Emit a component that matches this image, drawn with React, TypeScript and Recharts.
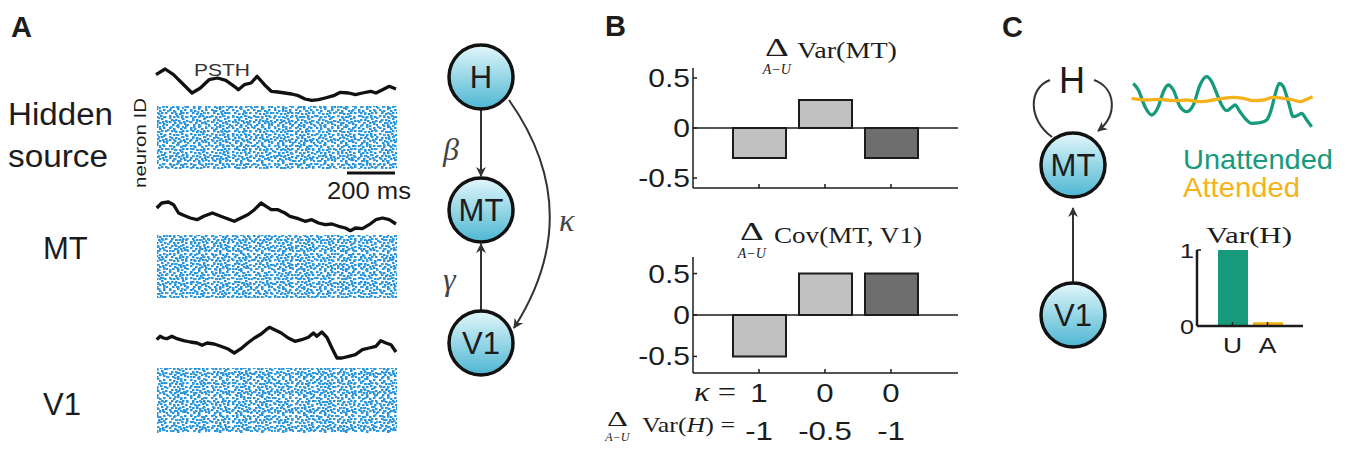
import React from "react";
import { LineChart, Line, XAxis, YAxis, BarChart, Bar, Cell, ReferenceLine } from "recharts";

// --- Panel A: PSTH traces (time in ms, rate in a.u.)
const hiddenT = [0, 38, 73, 108, 150, 185, 221, 256, 291, 326, 343, 368, 396, 421, 452, 480, 508, 537, 565, 593, 621, 649, 677, 705, 740, 768, 803, 831, 860, 895, 916, 944, 972, 1000];
const hiddenRate = [28.3, 34, 28.3, 20, 10, 15, 23.3, 25, 22.7, 16.7, 13.3, 18.3, 20, 26.7, 18.3, 11.7, 11, 10, 9, 7.3, 4, 2.7, 3.3, 5, 7.3, 10.7, 10, 8.3, 10, 11.7, 10, 13.3, 16.7, 14];

const mtT = [3, 24, 52, 73, 94, 115, 143, 171, 199, 235, 270, 298, 326, 354, 382, 410, 438, 459, 480, 508, 537, 558, 593, 621, 649, 677, 705, 733, 761, 789, 810, 831, 860, 888, 916, 944, 972, 1000];
const mtRate = [30, 35, 36, 33.3, 25, 22.7, 20, 18.3, 21.7, 25, 21.7, 19.3, 16.7, 20, 23.3, 28.3, 35, 31.7, 28.3, 28.3, 25, 21.7, 19.3, 16.7, 18.3, 15, 13.3, 14, 11.7, 10, 7.3, 10, 9.3, 13.3, 18.3, 20, 18.3, 14];

const v1T = [3, 17, 31, 45, 66, 87, 115, 143, 171, 192, 213, 242, 270, 298, 326, 354, 382, 410, 438, 459, 473, 494, 522, 551, 579, 607, 635, 656, 670, 691, 712, 733, 754, 775, 803, 831, 860, 888, 916, 937, 958, 979, 1000];
const v1Rate = [28.3, 31.7, 30, 29.3, 31.7, 29.3, 27.3, 26, 25, 22.7, 25, 24, 21.7, 19.3, 15, 19.3, 25, 30, 34, 38.3, 40.7, 38.3, 35, 30, 26.7, 28.3, 30.7, 35, 31.7, 36, 30.7, 20, 10, 10, 11.7, 13.3, 18.3, 20, 21.7, 27.3, 25, 23.3, 16];

// --- Panel B
const kappaValues = ["1", "0", "0"];
const varHDelta = ["-1", "-0.5", "-1"];
const varMtDelta = [-0.3, 0.28, -0.3];
const covDelta = [-0.5, 0.5, 0.5];
const barShades = ["#c1c1c1", "#c1c1c1", "#6e6e6e"];

// --- Panel C
const uT = [40, 55, 75, 95, 115, 130, 145, 160, 180, 200, 220, 240, 260, 275, 290, 305, 320, 335, 345, 360, 375, 395, 420, 440, 455, 465, 478, 490, 505, 520, 535, 545, 560, 575];
const unattended = [51.7, 45, 28.3, 20, 28.3, 43.3, 50, 45, 28.3, 23.3, 30, 50, 58.3, 53.3, 41.7, 30, 24.3, 27.7, 30, 23.3, 16.7, 11.7, 12.3, 15, 26.7, 40, 51.7, 48.3, 33.3, 18.3, 20, 21.7, 15, 8.3];
const aT = [35, 80, 120, 160, 200, 240, 280, 310, 340, 370, 400, 430, 460, 490, 520, 540, 560, 578];
const attended = [36.7, 35, 35.7, 34.3, 35, 33.3, 35, 36.7, 37.7, 36.7, 34.3, 35, 37.7, 36.7, 35, 33.3, 35.7, 38.3];
const varHCats = ["U", "A"];
const varHValues = [1, 0.05];

const GREEN = "#179a7c";
const ORANGE = "#f4b31a";
const INK = "#1c1c1c";
const SANS = "'Liberation Sans', Arial, sans-serif";
const SERIF = "'Liberation Serif', 'Times New Roman', serif";
const STRETCH = 1.2; // the figure's lettering is a bit wider than the font

function Psth({ left, top, t, v }: { left: number; top: number; t: number[]; v: number[] }) {
  const data = t.map((x, i) => ({ t: x, v: v[i] }));
  return (
    <div style={{ position: "absolute", left: left - 3, top: top - 3 }}>
      <LineChart width={246} height={49} data={data} margin={{ top: 3, right: 3, bottom: 3, left: 3 }}>
        <XAxis dataKey="t" type="number" domain={[0, 1000]} hide />
        <YAxis type="number" domain={[0, 43]} hide />
        <Line dataKey="v" stroke="#111" strokeWidth={3.3} dot={false} isAnimationActive={false} strokeLinejoin="round" />
      </LineChart>
    </div>
  );
}

const YTick = (props: any) => {
  const { x, y, payload, fs = 25 } = props;
  return (
    <g>
      <line x1={x} x2={x + 4} y1={y} y2={y} stroke={INK} strokeWidth={1.5} />
      <text x={0} y={0} transform={`translate(${x - 3},${y + fs * 0.36}) scale(${STRETCH},1)`} textAnchor="end" fontSize={fs} fontFamily={SANS} fill={INK}>
        {payload.value}
      </text>
    </g>
  );
};

const makeXTick = (rows: string[][], fs: number, gaps: number[]) => (props: any) => {
  const { x, y, index } = props;
  return (
    <g>
      <line x1={x} x2={x} y1={y} y2={y - 4} stroke={INK} strokeWidth={1.5} />
      {rows.map((r, k) => (
        <text key={k} x={0} y={0} transform={`translate(${x},${y + gaps[k]}) scale(${STRETCH},1)`} textAnchor="middle" fontSize={fs} fontFamily={SANS} fill={INK}>
          {r[index]}
        </text>
      ))}
    </g>
  );
};

function DeltaChart({ top, plotH, values, domain, withLabels }: { top: number; plotH: number; values: number[]; domain: number[]; withLabels: boolean }) {
  const data = values.map((v, i) => ({ name: "c" + i, v }));
  const xh = withLabels ? 74 : 4;
  const tick = withLabels ? makeXTick([kappaValues, varHDelta], 26, [29, 67]) : makeXTick([], 26, []);
  return (
    <div style={{ position: "absolute", left: 633, top: top - 12 }}>
      <BarChart width={335} height={12 + plotH + xh} data={data} margin={{ top: 12, right: 10, bottom: 0, left: 0 }} barSize={53}>
        <XAxis dataKey="name" padding={{ left: 33, right: 34 }} height={xh} tickSize={0} tickMargin={0} tick={tick} axisLine={{ stroke: INK, strokeWidth: 1.5 }} tickLine={false} interval={0} />
        <YAxis type="number" domain={domain} ticks={[-0.5, 0, 0.5]} width={60} tickSize={0} tickMargin={0} tick={<YTick fs={25} />} axisLine={{ stroke: INK, strokeWidth: 1.5 }} tickLine={false} />
        <ReferenceLine y={0} stroke={INK} strokeWidth={1.5} />
        <Bar dataKey="v" stroke={INK} strokeWidth={2} isAnimationActive={false}>
          {data.map((d, i) => (
            <Cell key={d.name} fill={barShades[i]} />
          ))}
        </Bar>
      </BarChart>
    </div>
  );
}

function RasterDefs() {
  const dotsA = [
    [1, 1], [5, 2], [9, 0], [12, 2], [16, 1], [3, 4], [7, 5], [11, 5], [14, 4], [18, 4],
    [1, 7], [5, 8], [9, 8], [13, 7], [17, 8], [3, 11], [7, 11], [10, 12], [14, 10], [18, 12],
    [1, 13], [6, 14], [12, 14], [16, 15], [4, 16], [9, 16], [19, 16], [15, 13],
  ];
  const dotsB = [
    [2, 2], [8, 3], [15, 1], [20, 3], [5, 7], [12, 6], [18, 8], [1, 11], [9, 12], [15, 11], [21, 12], [6, 15], [13, 16], [19, 17],
  ];
  return (
    <>
      <pattern id="rasterA" patternUnits="userSpaceOnUse" width={21} height={18}>
        {dotsA.map(([x, y], i) => (
          <rect key={i} x={x} y={y} width={2.5} height={2.1} fill="#2892d8" />
        ))}
      </pattern>
      <pattern id="rasterB" patternUnits="userSpaceOnUse" width={23} height={19}>
        {dotsB.map(([x, y], i) => (
          <rect key={i} x={x} y={y} width={2.5} height={2.1} fill="#3a9fdf" />
        ))}
      </pattern>
    </>
  );
}

function Raster({ x, y, w, h }: { x: number; y: number; w: number; h: number }) {
  return (
    <g>
      <rect x={x} y={y} width={w} height={h} fill="url(#rasterA)" />
      <rect x={x} y={y} width={w} height={h} fill="url(#rasterB)" />
    </g>
  );
}

function Node({ cx, cy, label, r = 32 }: { cx: number; cy: number; label: string; r?: number }) {
  return (
    <g>
      <circle cx={cx} cy={cy} r={r} fill="url(#nodeGrad)" stroke="#111" strokeWidth={3.5} />
      <text x={cx} y={cy + 11} textAnchor="middle" fontSize={31} fontFamily={SANS} fill={INK}>
        {label}
      </text>
    </g>
  );
}

function SubDelta({ x, y, size, sub }: { x: number; y: number; size: number; sub: number }) {
  // Δ with A−U beneath it
  return (
    <g>
      <text x={x} y={y} fontSize={size} fontFamily={SERIF} fill={INK} textLength={size * 0.95} lengthAdjust="spacingAndGlyphs">Δ</text>
      <text x={x + size * 0.47} y={y + sub * 1.25} textAnchor="middle" fontSize={sub} fontStyle="italic" fontFamily={SERIF} fill={INK}>A−U</text>
    </g>
  );
}

function Overlay() {
  return (
    <svg width={1353} height={454} style={{ position: "absolute", left: 0, top: 0, pointerEvents: "none" }}>
      <defs>
        <RasterDefs />
        <linearGradient id="nodeGrad" x1="0" y1="0" x2="0" y2="1">
          <stop offset="0" stopColor="#e2f7fb" />
          <stop offset="1" stopColor="#4db6d2" />
        </linearGradient>
        <marker id="arr" viewBox="0 0 10 10" refX="9" refY="5" markerWidth={5} markerHeight={5} orient="auto">
          <path d="M0,0 L10,5 L0,10 L3,5 z" fill="#333" />
        </marker>
      </defs>

      {/* panel letters */}
      <text x={11} y={37} fontSize={29} fontWeight="bold" fontFamily={SANS} fill={INK}>A</text>
      <text x={605} y={36} fontSize={29} fontWeight="bold" fontFamily={SANS} fill={INK}>B</text>
      <text x={1002} y={37} fontSize={29} fontWeight="bold" fontFamily={SANS} fill={INK}>C</text>

      {/* panel A labels */}
      <text x={8} y={125} fontSize={31} fontFamily={SANS} fill={INK} textLength={105} lengthAdjust="spacingAndGlyphs">Hidden</text>
      <text x={8} y={167} fontSize={31} fontFamily={SANS} fill={INK} textLength={100} lengthAdjust="spacingAndGlyphs">source</text>
      <text x={43} y={259} fontSize={31} fontFamily={SANS} fill={INK}>MT</text>
      <text x={43} y={415} fontSize={31} fontFamily={SANS} fill={INK}>V1</text>
      <text x={0} y={0} fontSize={17} fontFamily={SANS} fill={INK} transform="translate(146,188) rotate(-90)" textLength={90} lengthAdjust="spacingAndGlyphs">neuron ID</text>
      <text x={194} y={76} fontSize={17} fontFamily={SANS} fill="#333" textLength={56} lengthAdjust="spacingAndGlyphs">PSTH</text>
      <line x1={347} x2={395} y1={173} y2={173} stroke="#111" strokeWidth={3} />
      <text x={327} y={199} fontSize={23} fontFamily={SANS} fill={INK} textLength={84} lengthAdjust="spacingAndGlyphs">200 ms</text>
      <Raster x={157} y={106} w={240} h={63} />
      <Raster x={157} y={235} w={240} h={63} />
      <Raster x={157} y={368} w={240} h={65} />

      {/* panel A graph */}
      <line x1={481} x2={481} y1={109} y2={176} stroke="#333" strokeWidth={2} markerEnd="url(#arr)" />
      <line x1={481} x2={481} y1={310} y2={244} stroke="#333" strokeWidth={2} markerEnd="url(#arr)" />
      <path d="M509,100 Q588,212 514,328" fill="none" stroke="#333" strokeWidth={2} markerEnd="url(#arr)" />
      <Node cx={481} cy={77} label="H" />
      <Node cx={481} cy={210} label="MT" />
      <Node cx={481} cy={343} label="V1" />
      <text x={443} y={160} fontSize={32} fontStyle="italic" fontFamily={SERIF} fill="#444">β</text>
      <text x={443} y={290} fontSize={32} fontStyle="italic" fontFamily={SERIF} fill="#444">γ</text>
      <text x={559} y={231} fontSize={32} fontStyle="italic" fontFamily={SERIF} fill="#444">κ</text>

      {/* panel B titles */}
      <SubDelta x={765} y={56} size={25} sub={14} />
      <text x={797} y={58} fontSize={24} fontFamily={SERIF} fill={INK} textLength={100} lengthAdjust="spacingAndGlyphs">Var(MT)</text>
      <SubDelta x={740} y={240} size={25} sub={14} />
      <text x={774} y={243} fontSize={24} fontFamily={SERIF} fill={INK} textLength={148} lengthAdjust="spacingAndGlyphs">Cov(MT, V1)</text>
      <text x={694} y={401} fontSize={28} fontFamily={SERIF} fill={INK} textLength={42} lengthAdjust="spacingAndGlyphs"><tspan fontStyle="italic">κ</tspan> =</text>
      <SubDelta x={607} y={426} size={22} sub={12} />
      <text x={642} y={432} fontSize={22} fontFamily={SERIF} fill={INK} textLength={93} lengthAdjust="spacingAndGlyphs">Var(<tspan fontStyle="italic">H</tspan>) =</text>

      {/* panel C graph */}
      <path d="M1052,137 C1028,120 1028,88 1050,80" fill="none" stroke="#333" strokeWidth={2} />
      <path d="M1094,80 C1116,88 1118,115 1098,131" fill="none" stroke="#333" strokeWidth={2} markerEnd="url(#arr)" />
      <text x={1072} y={93} textAnchor="middle" fontSize={36} fontFamily={SANS} fill={INK}>H</text>
      <line x1={1073} x2={1073} y1={282} y2={208} stroke="#333" strokeWidth={2} markerEnd="url(#arr)" />
      <Node cx={1073} cy={165} label="MT" />
      <Node cx={1073} cy={315} label="V1" />
      <text x={1183} y={169} fontSize={28} fontFamily={SANS} fill={GREEN} textLength={150} lengthAdjust="spacingAndGlyphs">Unattended</text>
      <text x={1183} y={197} fontSize={28} fontFamily={SANS} fill={ORANGE} textLength={117} lengthAdjust="spacingAndGlyphs">Attended</text>
      <text x={1249} y={243} textAnchor="middle" fontSize={23} fontFamily={SERIF} fill={INK} textLength={86} lengthAdjust="spacingAndGlyphs">Var(H)</text>
    </svg>
  );
}

function AttentionTraces() {
  const data = [
    ...uT.map((t, i) => ({ t, u: unattended[i] })),
    ...aT.map((t, i) => ({ t, a: attended[i] })),
  ].sort((p, q) => p.t - q.t);
  return (
    <div style={{ position: "absolute", left: 1117, top: 67 }}>
      <LineChart width={206} height={71} data={data} margin={{ top: 3, right: 3, bottom: 3, left: 3 }}>
        <XAxis dataKey="t" type="number" domain={[0, 600]} hide />
        <YAxis type="number" domain={[0, 65]} hide />
        <Line dataKey="u" stroke={GREEN} strokeWidth={3.3} dot={false} connectNulls type="monotone" isAnimationActive={false} />
        <Line dataKey="a" stroke={ORANGE} strokeWidth={3.3} dot={false} connectNulls type="monotone" isAnimationActive={false} />
      </LineChart>
    </div>
  );
}

function VarHChart() {
  const data = varHCats.map((c, i) => ({ name: c, v: varHValues[i] }));
  const tick = makeXTick([varHCats], 22, [27]);
  return (
    <div style={{ position: "absolute", left: 1157, top: 235 }}>
      <BarChart width={150} height={15 + 76 + 42} data={data} margin={{ top: 15, right: 4, bottom: 0, left: 0 }} barSize={30}>
        <XAxis dataKey="name" padding={{ left: 18, right: 18 }} height={42} tickSize={0} tickMargin={0} tick={tick} axisLine={{ stroke: INK, strokeWidth: 2.5 }} tickLine={false} interval={0} />
        <YAxis type="number" domain={[0, 1]} ticks={[0, 1]} width={40} tickSize={0} tickMargin={0} tick={<YTick fs={21} />} axisLine={{ stroke: INK, strokeWidth: 2.5 }} tickLine={false} />
        <Bar dataKey="v" isAnimationActive={false}>
          {data.map((d, i) => (
            <Cell key={d.name} fill={i === 0 ? GREEN : ORANGE} />
          ))}
        </Bar>
      </BarChart>
    </div>
  );
}

export default function App() {
  return (
    <div style={{ position: "absolute", left: 0, top: 0, width: 1353, height: 454, background: "#fff", overflow: "hidden" }}>
      <Overlay />
      <Psth left={156} top={60} t={hiddenT} v={hiddenRate} />
      <Psth left={156} top={195} t={mtT} v={mtRate} />
      <Psth left={156} top={325} t={v1T} v={v1Rate} />
      <DeltaChart top={68} plotH={120} values={varMtDelta} domain={[-0.6, 0.6]} withLabels={false} />
      <DeltaChart top={257} plotH={116} values={covDelta} domain={[-0.7, 0.7]} withLabels={true} />
      <AttentionTraces />
      <VarHChart />
    </div>
  );
}
